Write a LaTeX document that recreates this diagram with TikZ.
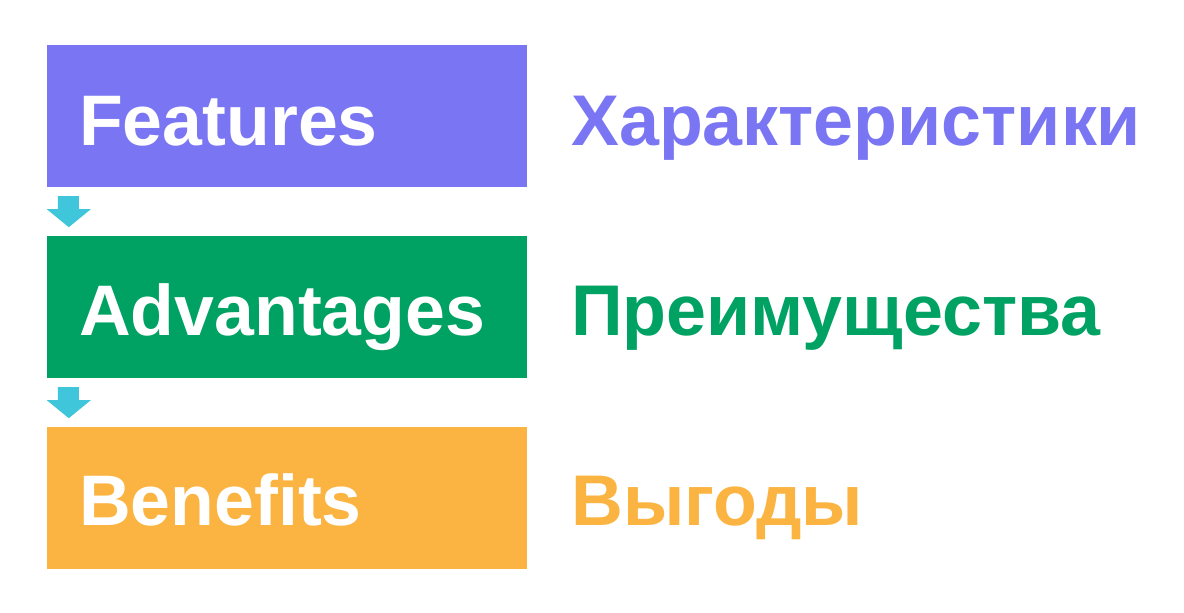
\documentclass[tikz,border=0pt]{standalone}
\usepackage{fontspec}
\setmainfont{Liberation Sans}
\usepackage{tikz}
\usetikzlibrary{calc}
\definecolor{featcol}{RGB}{122,118,243}
\definecolor{advcol}{RGB}{0,162,99}
\definecolor{bencol}{RGB}{251,180,65}
\definecolor{arrcol}{RGB}{64,198,218}
\tikzset{
  box/.style={draw=none,inner sep=0pt,minimum width=480pt,minimum height=142pt},
  boxtext/.style={anchor=base west,inner sep=0pt,text=white,font=\fontsize{71.6}{80}\selectfont\bfseries},
  sidetext/.style={anchor=base west,inner sep=0pt,font=\fontsize{71.8}{80}\selectfont\bfseries}
}
\begin{document}
\begin{tikzpicture}[x=1pt,y=-1pt]
    \useasboundingbox (0,0) rectangle (1184,613);
    % boxes
    \node[box,fill=featcol] (feat) at (287,116) {};
    \node[box,fill=advcol] (adv) at (287,307) {};
    \node[box,fill=bencol] (ben) at (287,498) {};
    % labels
    \node[boxtext] (featl) at (79,145) {Features};
    \node[boxtext] (advl) at (79,335) {Advantages};
    \node[boxtext] (benl) at (79,525) {Benefits};
    \node[sidetext,text=featcol] (featr) at (571,145) {Характеристики};
    \node[sidetext,text=advcol] (advr) at (571,335) {Преимущества};
    \node[sidetext,text=bencol] (benr) at (571,525) {Выгоды};
    % arrows
    \foreach \a in {feat,adv}{
        \fill[arrcol] ($(\a.south west)+(11,9)$) -- ($(\a.south west)+(32,9)$) -- ($(\a.south west)+(32,22)$)
            -- ($(\a.south west)+(44,22)$) -- ($(\a.south west)+(22,40)$) -- ($(\a.south west)+(0,22)$)
            -- ($(\a.south west)+(11,22)$) -- cycle;
    }
\end{tikzpicture}
\end{document}
